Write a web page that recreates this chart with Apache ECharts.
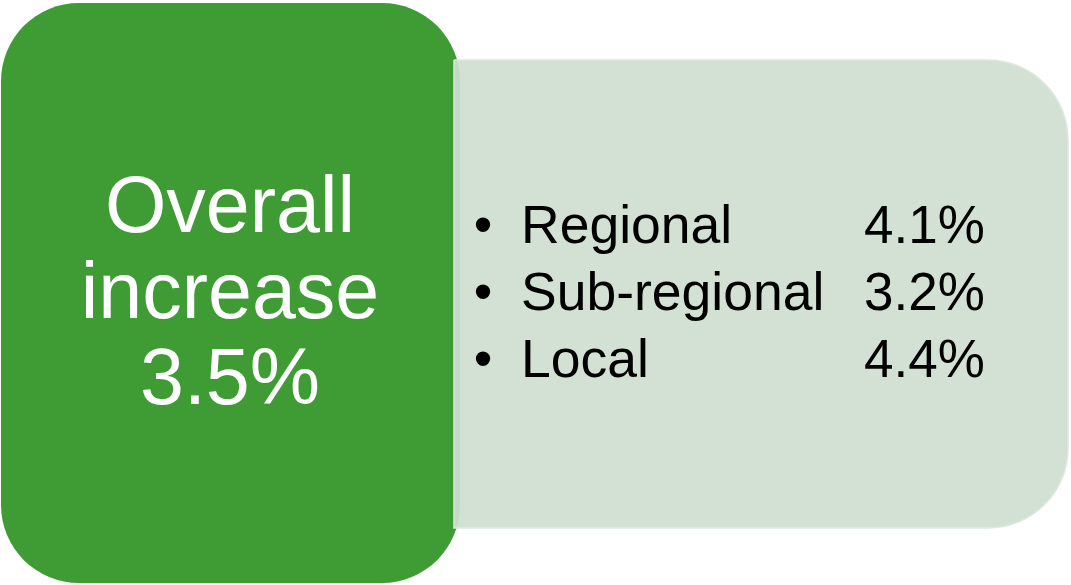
<!DOCTYPE html>
<html>
<head>
<meta charset="utf-8">
<script src="https://cdn.jsdelivr.net/npm/echarts@6/dist/echarts.min.js"></script>
<style>
html,body{margin:0;padding:0;background:#ffffff;}
#main{width:1071px;height:585px;}
</style>
</head>
<body>
<div id="main"></div>
<script>
// ---- data ----
const categories = ['Regional', 'Sub-regional', 'Local'];
const values = [4.1, 3.2, 4.4];
const overallWords = ['Overall', 'increase'];
const overallValue = 3.5;

const FONT = '"Liberation Sans", Arial, Helvetica, sans-serif';
const fmt = v => v.toFixed(1) + '%';

const chart = echarts.init(document.getElementById('main'), null, {renderer: 'canvas'});

const elements = [];

// green panel
elements.push({
  type: 'rect', z: 1,
  shape: {x: 1, y: 3, width: 459, height: 580, r: 78},
  style: {fill: '#3f9c35'}
});

// light panel (slightly transparent, drawn over green edge)
elements.push({
  type: 'rect', z: 2,
  shape: {x: 454, y: 60, width: 614, height: 468, r: [0, 80, 80, 0]},
  style: {fill: 'rgba(208,223,209,0.93)', stroke: 'rgba(222,232,222,1)', lineWidth: 1.5}
});

// overall text
const overallLines = overallWords.concat([fmt(overallValue)]);
const bigBase = 210, bigStep = 86;
overallLines.forEach((t, i) => {
  elements.push({
    type: 'text', z: 5,
    style: {
      x: 230, y: bigBase + i * bigStep,
      text: t, fill: '#ffffff',
      font: '79px ' + FONT,
      align: 'center', verticalAlign: 'middle'
    }
  });
});

// list
const listBase = 228, listStep = 67;
categories.forEach((c, i) => {
  const y = listBase + i * listStep;
  elements.push({
    type: 'text', z: 5,
    style: {x: 483, y: y, text: '\u2022', fill: '#000000', font: '53px ' + FONT, align: 'center', verticalAlign: 'middle'}
  });
  elements.push({
    type: 'text', z: 5,
    style: {x: 521, y: y, text: c, fill: '#000000', font: '53.5px ' + FONT, align: 'left', verticalAlign: 'middle'}
  });
  elements.push({
    type: 'text', z: 5,
    style: {x: 864, y: y, text: fmt(values[i]), fill: '#000000', font: '53px ' + FONT, align: 'left', verticalAlign: 'middle'}
  });
});

chart.setOption({
  backgroundColor: '#ffffff',
  animation: false,
  graphic: {elements: elements}
});
</script>
</body>
</html>
